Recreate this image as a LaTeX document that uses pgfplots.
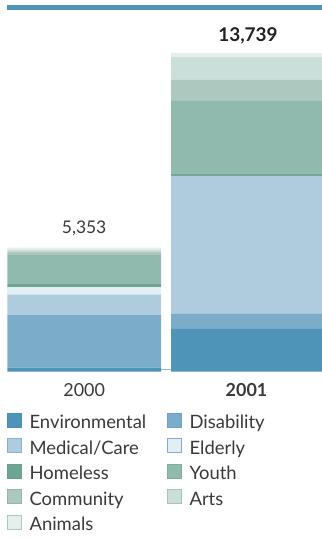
\documentclass[border=0pt]{standalone}
\usepackage{pgfplots}
\pgfplotsset{compat=1.18}
\usepackage{fontspec}
\setmainfont{Lato}
\definecolor{cEnv}{HTML}{4D94B8}
\definecolor{cEnvB}{HTML}{4A8FB3}
\definecolor{cDis}{HTML}{7BADCB}
\definecolor{cDisB}{HTML}{6FA2C2}
\definecolor{cMed}{HTML}{AFCBDE}
\definecolor{cMedB}{HTML}{86B2CF}
\definecolor{cEld}{HTML}{E3EDF4}
\definecolor{cEldB}{HTML}{7FAFCC}
\definecolor{cHom}{HTML}{6FA494}
\definecolor{cHomB}{HTML}{6A9E8E}
\definecolor{cYou}{HTML}{91BAAE}
\definecolor{cYouB}{HTML}{7FAE9F}
\definecolor{cCom}{HTML}{ADC9BF}
\definecolor{cComB}{HTML}{8FB8AA}
\definecolor{cArt}{HTML}{CADFD9}
\definecolor{cArtB}{HTML}{A2C4B9}
\definecolor{cAni}{HTML}{E6EFEA}
\definecolor{cAniB}{HTML}{A8C9BD}
\definecolor{cRule}{HTML}{4E95B9}
\definecolor{cBase}{HTML}{9CB9CB}
\definecolor{cText}{HTML}{3A3A3A}
\definecolor{cBold}{HTML}{222222}
\begin{document}
\begin{tikzpicture}
\useasboundingbox (0,0) rectangle (322bp,540bp);
\begin{axis}[
  at={(0bp,168.3bp)}, anchor=south west,
  scale only axis, width=322bp, height=364.4bp,
  xmin=0, xmax=322, ymin=0, ymax=15709,
  clip=false,
  axis line style={draw=none},
  ytick=\empty,
  xtick={84.15,246.5},
  xticklabels={2000,{\textbf{2001}}},
  major tick length=0pt,
  xticklabel style={anchor=base, yshift=-24.3bp, font=\fontsize{18}{20}\selectfont, text=cText},
  ybar stacked, bar width=153.7,
  legend columns=2,
  legend cell align=left,
  legend style={at={(axis cs:7.3,0)}, anchor=north west, yshift=-41bp,
    draw=none, fill=none, inner sep=0pt, outer sep=0pt,
    font=\fontsize{18.5}{20}\selectfont, text=cText,
    row sep=5.7bp,
    nodes={inner sep=0pt, text height=13bp, text depth=4bp, text width=130bp},
    /tikz/every odd column/.style={column sep=7.3bp},
    /tikz/every even column/.style={column sep=7.7bp}},
]
\addplot[fill=cEnv, draw=none, legend image code/.code={\draw[fill=cEnv, draw=cEnvB, line width=1bp] (0.5bp,-3.2bp) rectangle (14.5bp,10.8bp);}]
  coordinates {(84.15,172) (247.85,1841)};
\addlegendentry{Environmental}
\addplot[fill=cDis, draw=none, legend image code/.code={\draw[fill=cDis, draw=cDisB, line width=1bp] (0.5bp,-3.2bp) rectangle (14.5bp,10.8bp);}]
  coordinates {(84.15,2290) (247.85,647)};
\addlegendentry{Disability}
\addplot[fill=cMed, draw=none, legend image code/.code={\draw[fill=cMed, draw=cMedB, line width=1bp] (0.5bp,-3.2bp) rectangle (14.5bp,10.8bp);}]
  coordinates {(84.15,862) (247.85,5949)};
\addlegendentry{Medical/Care}
\addplot[fill=cEld, draw=none, legend image code/.code={\draw[fill=cEld, draw=cEldB, line width=1bp] (0.5bp,-3.2bp) rectangle (14.5bp,10.8bp);}]
  coordinates {(84.15,315) (247.85,0)};
\addlegendentry{Elderly}
\addplot[fill=cHom, draw=none, legend image code/.code={\draw[fill=cHom, draw=cHomB, line width=1bp] (0.5bp,-3.2bp) rectangle (14.5bp,10.8bp);}]
  coordinates {(84.15,172) (247.85,116)};
\addlegendentry{Homeless}
\addplot[fill=cYou, draw=none, legend image code/.code={\draw[fill=cYou, draw=cYouB, line width=1bp] (0.5bp,-3.2bp) rectangle (14.5bp,10.8bp);}]
  coordinates {(84.15,1228) (247.85,3117)};
\addlegendentry{Youth}
\addplot[fill=cCom, draw=none, legend image code/.code={\draw[fill=cCom, draw=cComB, line width=1bp] (0.5bp,-3.2bp) rectangle (14.5bp,10.8bp);}]
  coordinates {(84.15,129) (247.85,905)};
\addlegendentry{Community}
\addplot[fill=cArt, draw=none, legend image code/.code={\draw[fill=cArt, draw=cArtB, line width=1bp] (0.5bp,-3.2bp) rectangle (14.5bp,10.8bp);}]
  coordinates {(84.15,86) (247.85,991)};
\addlegendentry{Arts}
\addplot[fill=cAni, draw=none, legend image code/.code={\draw[fill=cAni, draw=cAniB, line width=1bp] (0.5bp,-3.2bp) rectangle (14.5bp,10.8bp);}]
  coordinates {(84.15,99) (247.85,173)};
\addlegendentry{Animals}
\draw[line width=4.5bp, color=cRule] (axis cs:7.3,15709) -- (axis cs:322,15709);
\draw[line width=1.2bp, color=cBase] (axis cs:161,103) -- (axis cs:171,103);
\node[anchor=base, font=\fontsize{17.5}{20}\selectfont, text=cText] at (axis cs:84.15,5966) {5,353};
\node[anchor=base, font=\fontsize{19}{20}\selectfont\bfseries, text=cBold] at (axis cs:248,14226) {13,739};
\end{axis}
\end{tikzpicture}
\end{document}
